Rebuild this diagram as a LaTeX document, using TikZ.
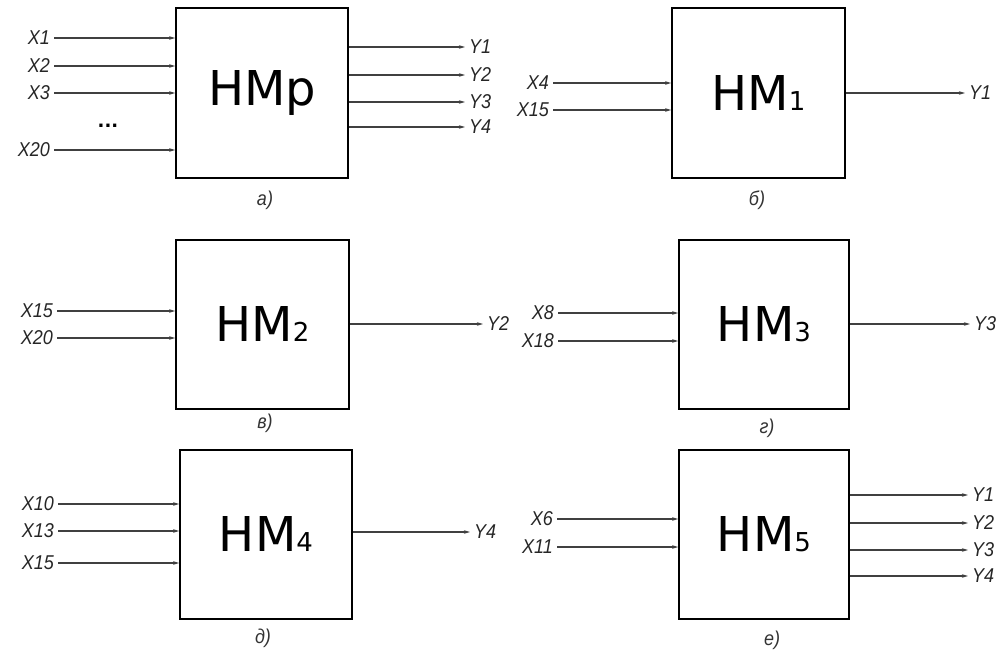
\documentclass[tikz,border=0pt]{standalone}
\usepackage{fontspec}
\setmainfont{DejaVu Sans}
\newfontfamily\labfont{Liberation Sans}[FakeStretch=0.9]
\usetikzlibrary{arrows.meta}
\newcommand\hmsub[1]{{\fontsize{26}{26}\selectfont #1}}
\tikzset{
  mbox/.style={draw=black, line width=1.6pt, inner sep=0pt, font=\fontsize{48}{48}\selectfont},
  lab/.style={font=\labfont\itshape\fontsize{20}{20}\selectfont, inner xsep=4pt, inner ysep=1pt, text=black!85},
  captext/.style={font=\labfont\itshape\fontsize{20}{20}\selectfont, inner sep=1pt, text=black!80},
  arr/.style={draw=black!75, line width=1.4pt, -{Stealth[length=6pt,width=3.5pt]}}
}
\begin{document}
\begin{tikzpicture}[x=1pt,y=-1pt]
\useasboundingbox[fill=white] (0,0) rectangle (1005,650);

% ---------------- a)
\node[mbox, minimum width=172pt, minimum height=170pt] (a) at (262,93) {HMp};
\node[lab, anchor=east] (ax1) at (54,38) {X1};
\node[lab, anchor=east] (ax2) at (54,66) {X2};
\node[lab, anchor=east] (ax3) at (54,93) {X3};
\node[lab, anchor=east] (ax20) at (54,150) {X20};
\node[font=\bfseries\fontsize{18}{18}\selectfont] (adots) at (108,126) {...};
\foreach \n in {ax1,ax2,ax3,ax20} \draw[arr] (\n.east) -- (\n.east -| a.west);
\node[lab, anchor=west] (ay1) at (465,47) {Y1};
\node[lab, anchor=west] (ay2) at (465,75) {Y2};
\node[lab, anchor=west] (ay3) at (465,102) {Y3};
\node[lab, anchor=west] (ay4) at (465,127) {Y4};
\foreach \n in {ay1,ay2,ay3,ay4} \draw[arr] (\n.west -| a.east) -- (\n.west);
\node[captext] (ca) at (265,200) {а)};

% ---------------- б)
\node[mbox, minimum width=173pt, minimum height=170pt] (b) at (758.5,93) {HM\hmsub{1}};
\node[lab, anchor=east] (bx4) at (553,83) {X4};
\node[lab, anchor=east] (bx15) at (553,110) {X15};
\foreach \n in {bx4,bx15} \draw[arr] (\n.east) -- (\n.east -| b.west);
\node[lab, anchor=west] (by1) at (965,93) {Y1};
\draw[arr] (by1.west -| b.east) -- (by1.west);
\node[captext] (cb) at (757,200) {б)};

% ---------------- в)
\node[mbox, minimum width=173pt, minimum height=169pt] (c) at (262.5,324.5) {HM\hmsub{2}};
\node[lab, anchor=east] (cx15) at (57,311) {X15};
\node[lab, anchor=east] (cx20) at (57,338) {X20};
\foreach \n in {cx15,cx20} \draw[arr] (\n.east) -- (\n.east -| c.west);
\node[lab, anchor=west] (cy2) at (483,324) {Y2};
\draw[arr] (cy2.west -| c.east) -- (cy2.west);
\node[captext] (cc) at (265,423) {в)};

% ---------------- г)
\node[mbox, minimum width=170pt, minimum height=169pt] (d) at (764,324.5) {HM\hmsub{3}};
\node[lab, anchor=east] (dx8) at (558,313) {X8};
\node[lab, anchor=east] (dx18) at (558,341) {X18};
\foreach \n in {dx8,dx18} \draw[arr] (\n.east) -- (\n.east -| d.west);
\node[lab, anchor=west] (dy3) at (970,324) {Y3};
\draw[arr] (dy3.west -| d.east) -- (dy3.west);
\node[captext] (cd) at (767,428) {г)};

% ---------------- д)
\node[mbox, minimum width=172pt, minimum height=169pt] (e) at (266,534.5) {HM\hmsub{4}};
\node[lab, anchor=east] (ex10) at (58,504) {X10};
\node[lab, anchor=east] (ex13) at (58,531) {X13};
\node[lab, anchor=east] (ex15) at (58,563) {X15};
\foreach \n in {ex10,ex13,ex15} \draw[arr] (\n.east) -- (\n.east -| e.west);
\node[lab, anchor=west] (ey4) at (470,532) {Y4};
\draw[arr] (ey4.west -| e.east) -- (ey4.west);
\node[captext] (ce) at (263,638) {д)};

% ---------------- е)
\node[mbox, minimum width=170pt, minimum height=169pt] (f) at (764,534.5) {HM\hmsub{5}};
\node[lab, anchor=east] (fx6) at (557,519) {X6};
\node[lab, anchor=east] (fx11) at (557,547) {X11};
\foreach \n in {fx6,fx11} \draw[arr] (\n.east) -- (\n.east -| f.west);
\node[lab, anchor=west] (fy1) at (968,495) {Y1};
\node[lab, anchor=west] (fy2) at (968,523) {Y2};
\node[lab, anchor=west] (fy3) at (968,550) {Y3};
\node[lab, anchor=west] (fy4) at (968,576) {Y4};
\foreach \n in {fy1,fy2,fy3,fy4} \draw[arr] (\n.west -| f.east) -- (\n.west);
\node[captext] (cf) at (772,640) {е)};
\end{tikzpicture}
\end{document}
